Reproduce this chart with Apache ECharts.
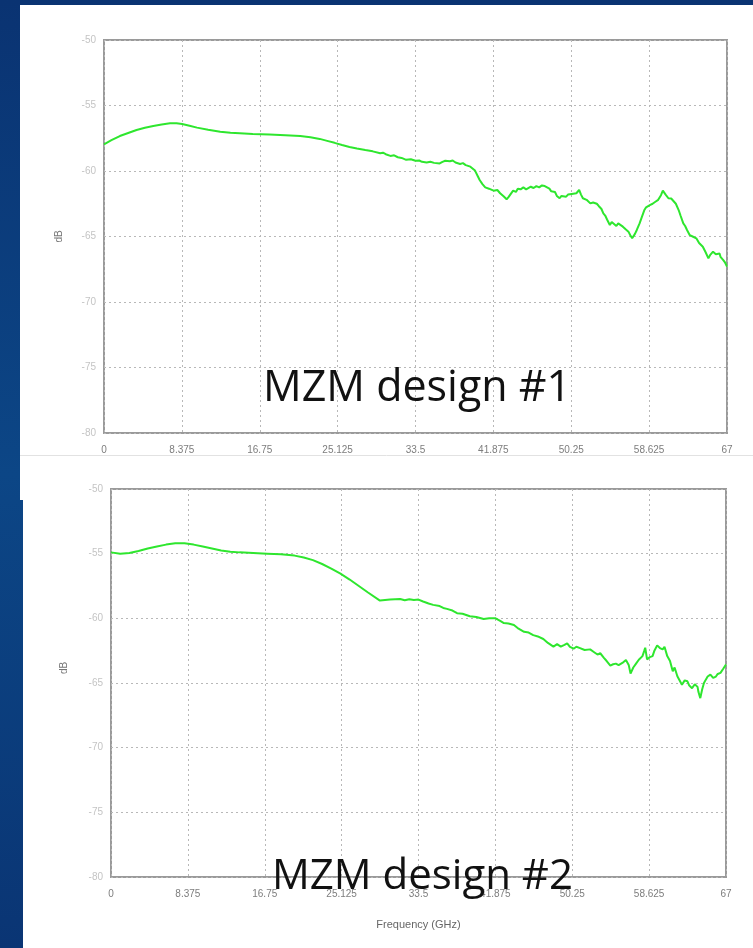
<!DOCTYPE html>
<html>
<head>
<meta charset="utf-8">
<title>MZM frequency response</title>
<script src="https://cdn.jsdelivr.net/npm/echarts@6/dist/echarts.min.js"></script>
<style>
  html, body { margin: 0; padding: 0; }
  #chart { width: 753px; height: 948px; }
</style>
</head>
<body>
<div id="chart"></div>
<script>
// Frequency axis ticks (GHz) shared by both plots
const freqTicks = [0, 8.375, 16.75, 25.125, 33.5, 41.875, 50.25, 58.625, 67];
const dbTicks = [-50, -55, -60, -65, -70, -75, -80];

// MZM design #1: measured response, [frequency GHz, dB]
const design1 = [
  [0, -57.96], [0.8, -57.65], [1.7, -57.33], [2.6, -57.1], [3.5, -56.87], [4.4, -56.7], [5.3, -56.56], [6.2, -56.45],
  [7.1, -56.36], [7.8, -56.35], [8.4, -56.41], [9.2, -56.55], [10.0, -56.69], [11.2, -56.85], [12.5, -57.0], [13.6, -57.08],
  [14.6, -57.12], [16.0, -57.18], [17.8, -57.22], [19.5, -57.27], [21.1, -57.32], [22.2, -57.42], [23.2, -57.55], [24.0, -57.7],
  [24.8, -57.85], [25.6, -58.02], [26.4, -58.17], [27.2, -58.28], [28.1, -58.4], [28.9, -58.5], [29.7, -58.65], [30.0, -58.6],
  [30.3, -58.72], [30.8, -58.85], [31.2, -58.8], [31.6, -58.95], [32.0, -59.0], [32.5, -59.15], [33.0, -59.1], [33.5, -59.22],
  [33.9, -59.2], [34.2, -59.3], [34.7, -59.35], [35.1, -59.3], [35.5, -59.38], [36.1, -59.42], [36.4, -59.3], [36.7, -59.22],
  [37.2, -59.26], [37.5, -59.2], [37.8, -59.35], [38.3, -59.46], [38.6, -59.4], [38.9, -59.55], [39.4, -59.67], [39.9, -59.97],
  [40.2, -60.4], [40.4, -60.69], [40.7, -61.0], [41.0, -61.25], [41.2, -61.15], [41.4, -61.35], [41.9, -61.5], [42.3, -61.45],
  [42.6, -61.7], [43.0, -61.95], [43.3, -62.16], [43.5, -62.0], [43.7, -61.9], [44.0, -61.5], [44.3, -61.6], [44.5, -61.35],
  [44.8, -61.4], [45.1, -61.25], [45.4, -61.4], [45.6, -61.35], [45.9, -61.2], [46.2, -61.3], [46.5, -61.15], [46.8, -61.25],
  [47.1, -61.1], [47.4, -61.15], [47.6, -61.3], [47.9, -61.35], [48.1, -61.55], [48.3, -61.65], [48.5, -61.6], [48.7, -61.9],
  [49.0, -62.08], [49.2, -61.9], [49.4, -62.0], [49.7, -61.96], [49.9, -61.8], [50.1, -61.9], [50.3, -61.75], [50.5, -61.85],
  [50.8, -61.7], [51.1, -61.45], [51.3, -61.8], [51.5, -62.08], [51.7, -61.95], [51.9, -62.2], [52.1, -62.3], [52.3, -62.47],
  [52.6, -62.4], [52.8, -62.55], [53.0, -62.5], [53.2, -62.67], [53.5, -62.9], [53.7, -63.23], [53.9, -63.4], [54.1, -63.7],
  [54.4, -64.12], [54.6, -63.9], [54.8, -64.0], [55.1, -64.2], [55.3, -64.0], [55.5, -64.1], [55.8, -64.25], [56.1, -64.45],
  [56.4, -64.63], [56.6, -64.9], [56.8, -65.14], [57.1, -64.8], [57.3, -64.5], [57.6, -64.0], [57.8, -63.6], [58.1, -63.0],
  [58.3, -62.77], [58.5, -62.85], [58.7, -62.6], [59.0, -62.5], [59.2, -62.6], [59.3, -62.35], [59.6, -62.2], [59.9, -61.85],
  [60.1, -61.5], [60.4, -61.8], [60.7, -62.08], [60.9, -61.95], [61.0, -62.1], [61.2, -62.2], [61.5, -62.5], [61.7, -62.6],
  [61.8, -62.98], [62.0, -63.4], [62.2, -63.3], [62.3, -64.0], [62.5, -64.2], [62.7, -64.5], [63.0, -64.9], [63.2, -64.8],
  [63.3, -65.0], [63.5, -64.95], [63.7, -65.14], [64.0, -65.5], [64.2, -65.4], [64.4, -65.78], [64.7, -66.2], [64.9, -66.1],
  [65.0, -66.67], [65.2, -66.4], [65.3, -66.3], [65.5, -66.16], [65.8, -66.35], [66.0, -66.4], [66.2, -66.3], [66.3, -66.55],
  [66.6, -66.8], [66.8, -67.0], [67.0, -67.3]
];

// MZM design #2: measured response, [frequency GHz, dB]
const design2 = [
  [0, -54.9], [1.0, -55.0], [2.0, -54.95], [3.0, -54.8], [4.0, -54.6], [5.0, -54.45], [6.0, -54.3], [7.0, -54.2],
  [8.0, -54.2], [9.0, -54.3], [10.0, -54.45], [11.0, -54.6], [12.0, -54.75], [13.0, -54.85], [14.0, -54.9], [15.5, -54.95],
  [17.0, -55.0], [18.5, -55.05], [20.0, -55.15], [21.0, -55.3], [22.0, -55.5], [23.0, -55.8], [24.0, -56.15], [25.0, -56.55],
  [26.0, -57.0], [27.0, -57.5], [28.0, -58.0], [29.3, -58.63], [30.4, -58.55], [31.5, -58.5], [32.0, -58.6], [32.5, -58.52],
  [33.0, -58.58], [33.5, -58.55], [34.0, -58.7], [34.6, -58.85], [35.1, -58.96], [35.8, -59.05], [36.2, -59.2], [36.6, -59.27],
  [37.2, -59.4], [37.7, -59.6], [38.3, -59.65], [39.1, -59.84], [39.8, -59.9], [40.6, -60.05], [41.2, -60.0], [41.9, -60.0],
  [42.4, -60.2], [42.8, -60.37], [43.3, -60.4], [43.9, -60.52], [44.4, -60.8], [45.0, -61.04], [45.5, -61.1], [46.0, -61.3],
  [46.5, -61.4], [47.1, -61.6], [47.6, -61.9], [48.2, -62.19], [48.6, -62.0], [49.0, -62.19], [49.4, -62.05], [49.7, -61.93],
  [50.0, -62.2], [50.4, -62.35], [50.7, -62.2], [51.1, -62.3], [51.6, -62.45], [52.2, -62.4], [52.6, -62.6], [53.0, -62.8],
  [53.3, -62.7], [53.7, -63.05], [54.0, -63.3], [54.4, -63.65], [54.7, -63.55], [55.0, -63.5], [55.3, -63.62], [55.5, -63.57],
  [55.8, -63.4], [56.1, -63.23], [56.4, -63.6], [56.6, -64.27], [56.9, -63.8], [57.2, -63.5], [57.5, -63.2], [57.9, -62.92],
  [58.1, -62.5], [58.2, -62.27], [58.4, -63.18], [58.7, -63.0], [59.0, -62.92], [59.2, -62.5], [59.5, -62.09], [59.8, -62.3],
  [60.1, -62.4], [60.3, -62.2], [60.6, -62.92], [60.9, -63.3], [61.2, -64.09], [61.4, -63.8], [61.7, -64.48], [61.9, -64.6],
  [62.2, -65.13], [62.5, -64.8], [62.8, -64.87], [63.0, -65.2], [63.3, -65.4], [63.6, -65.1], [63.9, -65.3], [64.0, -65.7],
  [64.2, -66.17], [64.4, -65.5], [64.6, -65.0], [64.8, -64.74], [65.0, -64.5], [65.3, -64.35], [65.6, -64.6], [65.9, -64.5],
  [66.1, -64.3], [66.4, -64.22], [66.7, -63.9], [67.0, -63.57]
];

const chart = echarts.init(document.getElementById('chart'));

const narrow = 'Liberation Sans Narrow, Liberation Sans, sans-serif';
const lightLabel = { color: '#c4c4c4', fontSize: 10, fontFamily: narrow };
const tickLabel = { color: '#7d7d7d', fontSize: 10, fontFamily: narrow };
const dotted = { color: '#b8b8b8', width: 1, type: [2, 3] };

function xAxisFor(gridIndex, name) {
  return {
    type: 'value', gridIndex: gridIndex, min: freqTicks[0], max: freqTicks[freqTicks.length - 1],
    interval: freqTicks[1] - freqTicks[0],
    axisLine: { show: false }, axisTick: { show: false },
    axisLabel: Object.assign({ margin: 12 }, tickLabel),
    splitLine: { show: true, lineStyle: dotted },
    name: name, nameLocation: 'middle', nameGap: 42,
    nameTextStyle: { color: '#666', fontSize: 11, fontFamily: narrow }
  };
}
function yAxisFor(gridIndex, gap, shiftUp) {
  return {
    type: 'value', gridIndex: gridIndex, min: dbTicks[dbTicks.length - 1], max: dbTicks[0], interval: 5,
    axisLine: { show: false }, axisTick: { show: false },
    axisLabel: Object.assign({ margin: 8 }, lightLabel),
    splitLine: { show: true, lineStyle: dotted },
    name: 'dB', nameLocation: 'middle', nameGap: gap,
    nameTextStyle: { color: '#777', fontSize: 10, fontFamily: 'Liberation Sans, sans-serif', padding: [0, 0, 0, shiftUp * 2] }
  };
}

const frame = { show: true, borderColor: '#9a9a9a', borderWidth: 2, backgroundColor: 'transparent' };

chart.setOption({
  animation: false,
  backgroundColor: {
    type: 'linear', x: 0, y: 0, x2: 0, y2: 1,
    colorStops: [
      { offset: 0, color: '#0a3372' },
      { offset: 0.5, color: '#0c4686' },
      { offset: 1, color: '#0a3574' }
    ]
  },
  graphic: [
    { type: 'rect', z: -100, shape: { x: 20, y: 5, width: 733, height: 495 }, style: { fill: '#ffffff' }, silent: true },
    { type: 'rect', z: -100, shape: { x: 23, y: 455, width: 730, height: 493 }, style: { fill: '#ffffff' }, silent: true },
    { type: 'line', z: -90, shape: { x1: 20, y1: 455.5, x2: 753, y2: 455.5 }, style: { stroke: '#e2e2e2', lineWidth: 1 }, silent: true },
    { type: 'text', z: 100, x: 263, y: 410, style: { text: 'MZM design #1', fill: '#111', font: '43px "Open Sans", sans-serif', textAlign: 'left', textVerticalAlign: 'bottom' } },
    { type: 'text', z: 100, x: 272, y: 898, style: { text: 'MZM design #2', fill: '#111', font: '42px "Open Sans", sans-serif', textAlign: 'left', textVerticalAlign: 'bottom' } }
  ],
  grid: [
    Object.assign({ left: 104, top: 40, width: 623, height: 393 }, frame),
    Object.assign({ left: 111, top: 489, width: 615, height: 388 }, frame)
  ],
  xAxis: [xAxisFor(0, ''), xAxisFor(1, 'Frequency (GHz)')],
  yAxis: [yAxisFor(0, 40, 0), yAxisFor(1, 42, 15)],
  series: [
    { type: 'line', xAxisIndex: 0, yAxisIndex: 0, data: design1, showSymbol: false,
      lineStyle: { color: '#2ee62e', width: 2 }, z: 5 },
    { type: 'line', xAxisIndex: 1, yAxisIndex: 1, data: design2, showSymbol: false,
      lineStyle: { color: '#2ee62e', width: 2 }, z: 5 }
  ]
});
</script>
</body>
</html>
